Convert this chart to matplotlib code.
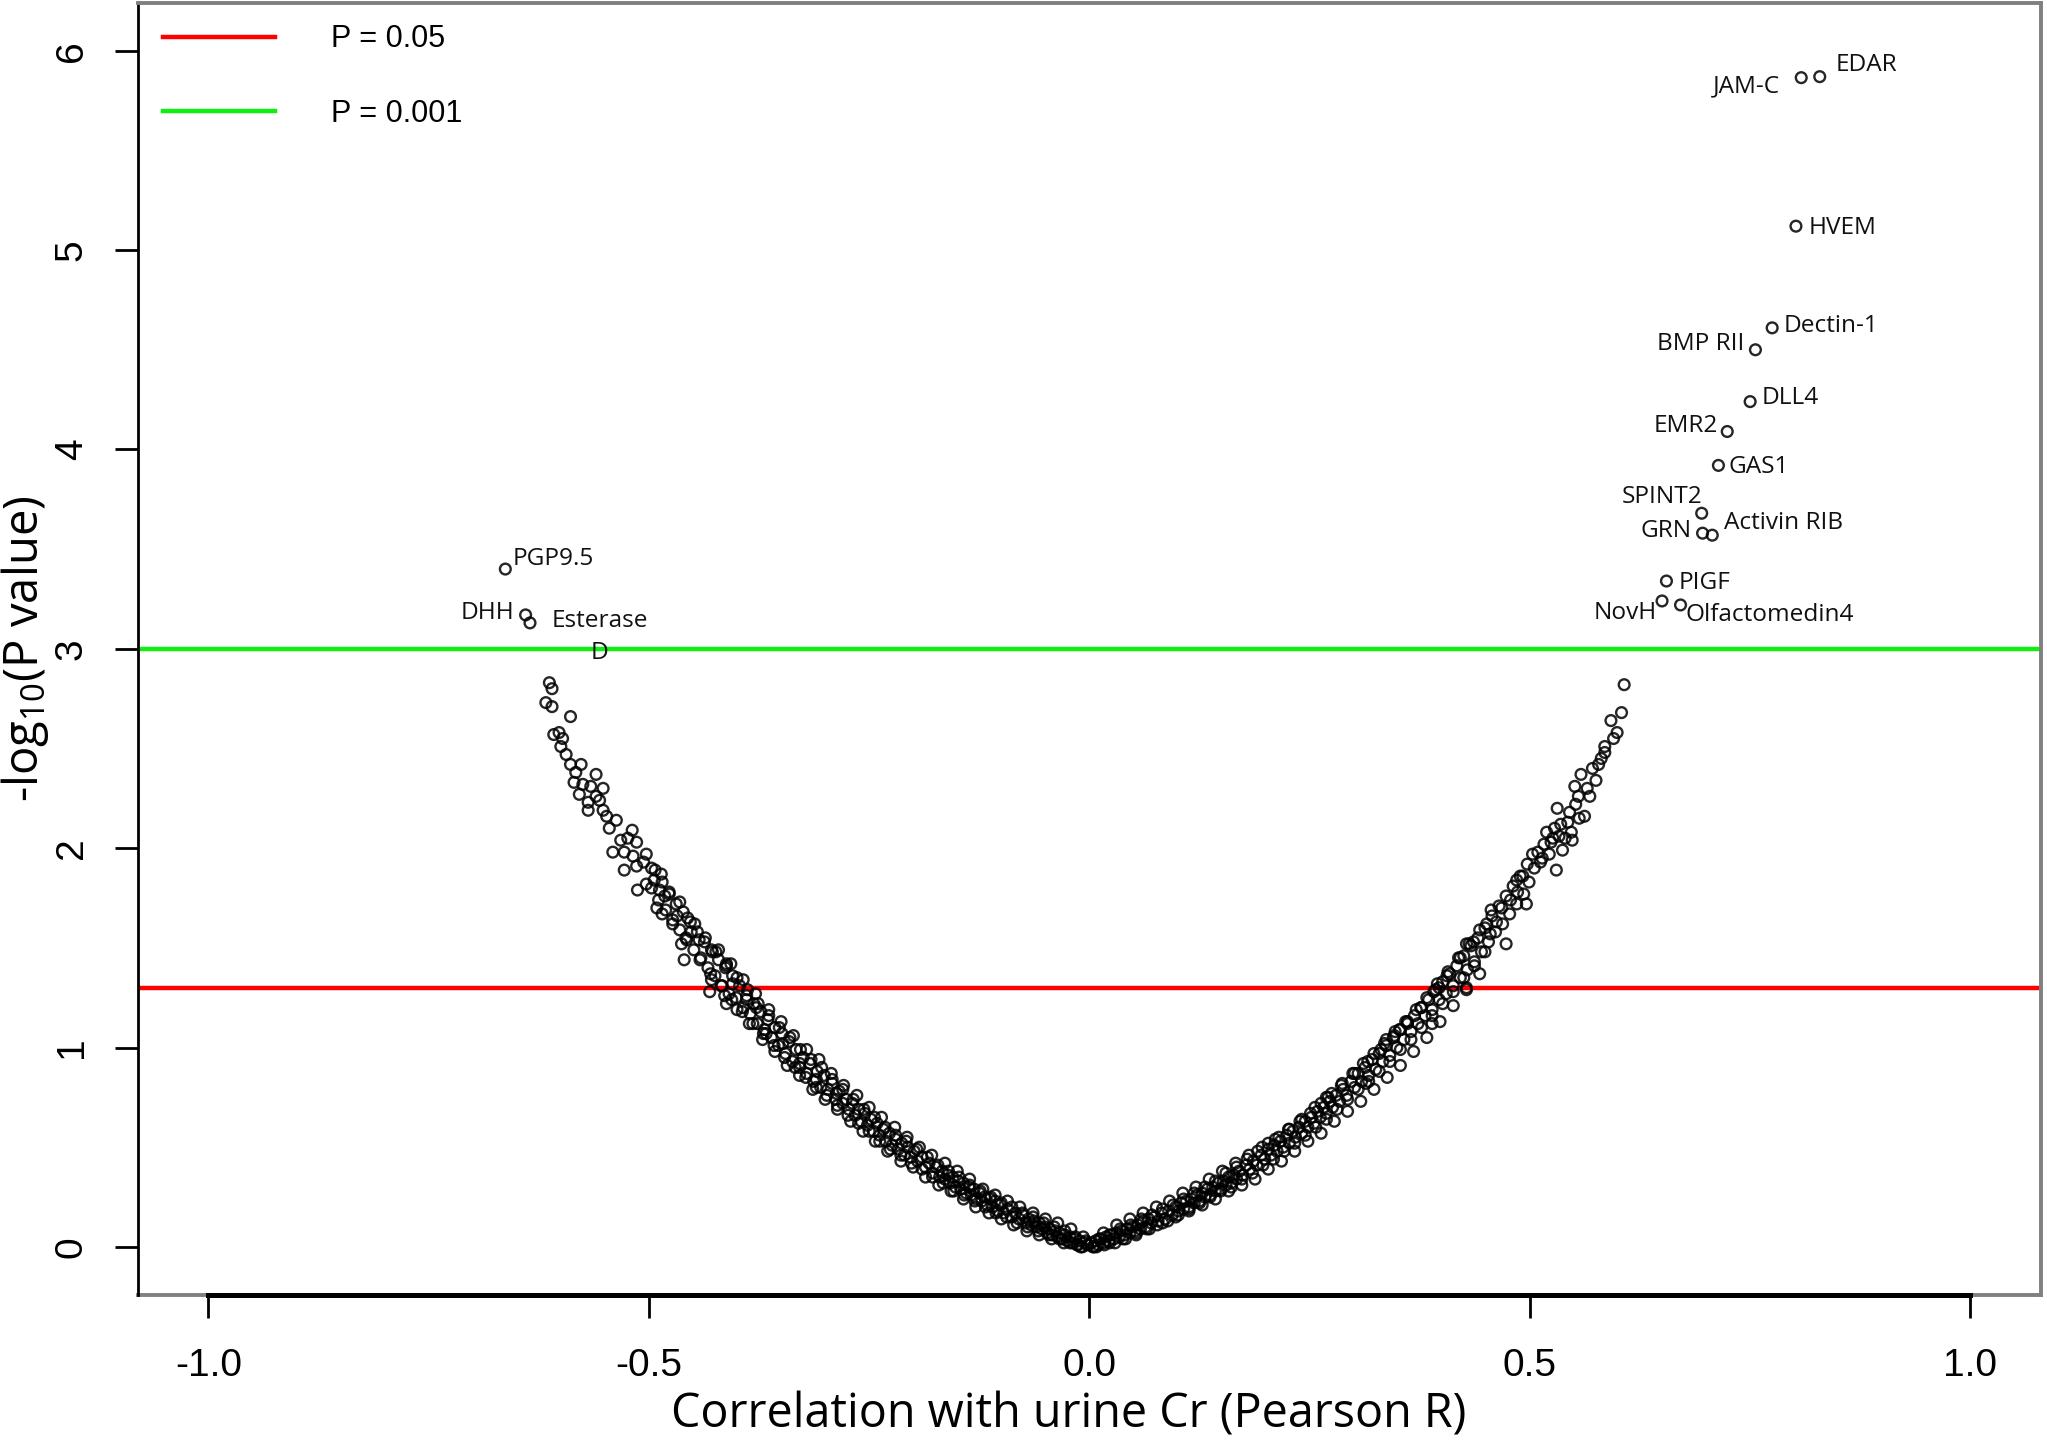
import numpy as np
import matplotlib.pyplot as plt
from matplotlib.lines import Line2D

# band of proteins with negative correlation
left_r = [-0.002, -0.005, -0.008, -0.011, -0.013, -0.016, -0.019, -0.022, -0.025, -0.028,
          -0.031, -0.034, -0.036, -0.039, -0.042, -0.045, -0.048, -0.051, -0.054, -0.057,
          -0.060, -0.063, -0.066, -0.069, -0.072, -0.076, -0.080, -0.084, -0.088, -0.093,
          -0.097,
          -0.101, -0.104, -0.107, -0.110, -0.113, -0.116, -0.119, -0.122, -0.125, -0.128,
          -0.131, -0.134, -0.137, -0.140, -0.143, -0.146, -0.149, -0.152, -0.155, -0.158,
          -0.161, -0.164, -0.167, -0.170, -0.174, -0.178, -0.182, -0.186, -0.190, -0.195,
          -0.199, -0.203, -0.206, -0.210, -0.213, -0.217, -0.220, -0.224, -0.227, -0.231,
          -0.234, -0.238, -0.241, -0.245, -0.248, -0.252, -0.255, -0.259, -0.262, -0.266,
          -0.269, -0.273, -0.276, -0.280, -0.284, -0.288, -0.292, -0.297,
          -0.301, -0.305, -0.309, -0.313, -0.317, -0.321, -0.325, -0.329, -0.333, -0.337,
          -0.341, -0.345, -0.349, -0.353, -0.357, -0.361, -0.365, -0.369, -0.373, -0.377,
          -0.381, -0.385, -0.389, -0.393, -0.397, -0.401,
          -0.405, -0.409, -0.413, -0.417, -0.421, -0.425, -0.429, -0.433, -0.437, -0.441,
          -0.445, -0.449, -0.453, -0.457, -0.461, -0.465, -0.469, -0.473, -0.477, -0.481,
          -0.485, -0.489, -0.493, -0.497,
          -0.491, -0.485, -0.477, -0.465, -0.473, -0.463, -0.456, -0.460, -0.443, -0.428,
          -0.412, -0.431, -0.405, -0.389, -0.378, -0.412, -0.367, -0.348, -0.329, -0.310,
          -0.287,
          -0.537, -0.545, -0.519, -0.524, -0.514, -0.541, -0.528, -0.503, -0.528, -0.514,
          -0.497, -0.486, -0.513, -0.503, -0.494,
          -0.552, -0.552, -0.560, -0.560, -0.569, -0.569, -0.575, -0.577, -0.579, -0.585,
          -0.589, -0.589, -0.608, -0.602, -0.600, -0.613, -0.610, -0.617, -0.610]
left_y = [0.01, 0.02, 0.00, 0.03, 0.01, 0.04, 0.02, 0.05, 0.03, 0.06,
          0.04, 0.07, 0.05, 0.08, 0.06, 0.09, 0.07, 0.10, 0.09, 0.12,
          0.10, 0.13, 0.11, 0.14, 0.12, 0.16, 0.14, 0.17, 0.15, 0.19,
          0.17,
          0.21, 0.18, 0.23, 0.20, 0.24, 0.21, 0.25, 0.23, 0.27, 0.24,
          0.29, 0.26, 0.30, 0.27, 0.32, 0.29, 0.33, 0.30, 0.35, 0.32,
          0.36, 0.34, 0.38, 0.35, 0.40, 0.37, 0.42, 0.40, 0.45, 0.43,
          0.48, 0.45, 0.50, 0.46, 0.52, 0.49, 0.54, 0.51, 0.57, 0.53,
          0.59, 0.56, 0.62, 0.58, 0.64, 0.61, 0.67, 0.63, 0.69, 0.66,
          0.72, 0.69, 0.74, 0.72, 0.78, 0.74, 0.82, 0.79,
          0.86, 0.80, 0.88, 0.83, 0.92, 0.87, 0.95, 0.90, 0.99, 0.93,
          1.03, 0.97, 1.07, 1.01, 1.10, 1.05, 1.14, 1.09, 1.18, 1.12,
          1.22, 1.17, 1.26, 1.20, 1.31, 1.25,
          1.36, 1.27, 1.40, 1.31, 1.44, 1.36, 1.49, 1.40, 1.53, 1.45,
          1.58, 1.49, 1.63, 1.54, 1.68, 1.59, 1.72, 1.64, 1.78, 1.69,
          1.83, 1.74, 1.89, 1.80,
          1.70, 1.67, 1.77, 1.73, 1.62, 1.52, 1.65, 1.44, 1.54, 1.48,
          1.42, 1.28, 1.32, 1.24, 1.20, 1.22, 1.07, 1.02, 0.92, 0.84,
          0.77,
          2.14, 2.10, 2.09, 2.05, 2.03, 1.98, 1.98, 1.97, 1.89, 1.91,
          1.90, 1.87, 1.79, 1.82, 1.84,
          2.30, 2.19, 2.37, 2.26, 2.23, 2.19, 2.32, 2.42, 2.27, 2.33,
          2.42, 2.66, 2.57, 2.58, 2.51, 2.83, 2.80, 2.73, 2.71]

# more points in the thick part of the negative band
left2_r = [-0.004, -0.010, -0.016, -0.022, -0.028, -0.034, -0.040, -0.046, -0.052, -0.058,
           -0.064, -0.070, -0.076, -0.082, -0.088, -0.094, -0.100, -0.106, -0.112, -0.118,
           -0.124, -0.130, -0.136, -0.142, -0.148, -0.154, -0.160, -0.166, -0.172, -0.178,
           -0.184, -0.190, -0.196, -0.202, -0.208, -0.214, -0.220, -0.226, -0.232, -0.238,
           -0.244, -0.250, -0.256, -0.262, -0.268, -0.274, -0.280, -0.286, -0.292, -0.298,
           -0.304, -0.310, -0.316, -0.322, -0.328, -0.334, -0.340, -0.346, -0.352, -0.358,
           -0.364, -0.370, -0.376, -0.382, -0.388, -0.394, -0.400, -0.406, -0.412, -0.418,
           -0.424, -0.430, -0.436, -0.442, -0.448]
left2_y = [0.03, 0.00, 0.05, 0.02, 0.08, 0.04, 0.10, 0.06, 0.12, 0.08,
           0.15, 0.10, 0.17, 0.12, 0.20, 0.15, 0.22, 0.17, 0.25, 0.20,
           0.28, 0.23, 0.31, 0.26, 0.35, 0.28, 0.38, 0.32, 0.41, 0.35,
           0.45, 0.39, 0.49, 0.42, 0.53, 0.46, 0.56, 0.49, 0.60, 0.53,
           0.65, 0.58, 0.69, 0.62, 0.74, 0.66, 0.79, 0.71, 0.84, 0.76,
           0.90, 0.80, 0.94, 0.85, 0.99, 0.90, 1.05, 0.95, 1.10, 1.01,
           1.16, 1.07, 1.22, 1.12, 1.29, 1.18, 1.35, 1.24, 1.41, 1.31,
           1.48, 1.37, 1.55, 1.44, 1.62]

left3_r = [-0.007, -0.014, -0.021, -0.029, -0.036, -0.043, -0.050, -0.057, -0.064, -0.071,
           -0.079, -0.086, -0.093, -0.100, -0.107, -0.114, -0.121, -0.129, -0.136, -0.143,
           -0.150, -0.157, -0.164, -0.171, -0.179, -0.186, -0.193, -0.200, -0.207, -0.214,
           -0.221, -0.229, -0.236, -0.243, -0.250, -0.257, -0.264, -0.271, -0.279, -0.286,
           -0.293, -0.300, -0.307, -0.314, -0.321, -0.329, -0.336, -0.343, -0.350, -0.357,
           -0.364, -0.371, -0.379, -0.386, -0.393, -0.400, -0.407, -0.414, -0.421, -0.429,
           -0.452, -0.458, -0.468, -0.482, -0.488, -0.506, -0.518, -0.532, -0.548, -0.556,
           -0.566, -0.583, -0.594, -0.598]
left3_y = [0.05, 0.01, 0.09, 0.02, 0.12, 0.04, 0.14, 0.06, 0.17, 0.08,
           0.20, 0.11, 0.23, 0.14, 0.26, 0.17, 0.29, 0.20, 0.34, 0.24,
           0.38, 0.28, 0.42, 0.31, 0.46, 0.35, 0.50, 0.40, 0.55, 0.43,
           0.60, 0.48, 0.65, 0.53, 0.70, 0.58, 0.76, 0.63, 0.81, 0.69,
           0.87, 0.74, 0.94, 0.79, 0.99, 0.86, 1.06, 0.91, 1.13, 0.98,
           1.19, 1.04, 1.27, 1.12, 1.34, 1.19, 1.42, 1.26, 1.49, 1.34,
           1.58, 1.55, 1.66, 1.76, 1.79, 1.93, 1.96, 2.04, 2.16, 2.24,
           2.31, 2.38, 2.47, 2.55]

# band of proteins with positive correlation
right_r = [0.002, 0.004, 0.007, 0.010, 0.013, 0.016, 0.019, 0.022, 0.025, 0.028,
           0.031, 0.034, 0.037, 0.040, 0.043, 0.046, 0.049, 0.052, 0.055, 0.058,
           0.061, 0.064, 0.067, 0.070, 0.074, 0.078, 0.082, 0.086, 0.090, 0.094,
           0.098,
           0.101, 0.104, 0.107, 0.110, 0.113, 0.116, 0.119, 0.122, 0.125, 0.128,
           0.131, 0.134, 0.137, 0.140, 0.143, 0.146, 0.149, 0.152, 0.155, 0.158,
           0.161, 0.164, 0.167, 0.170, 0.174, 0.178, 0.182, 0.186, 0.190, 0.195,
           0.199, 0.203, 0.206, 0.210, 0.213, 0.217, 0.220, 0.224, 0.227, 0.231,
           0.234, 0.238, 0.241, 0.245, 0.248, 0.252, 0.255, 0.259, 0.262, 0.266,
           0.269, 0.273, 0.276, 0.280, 0.284, 0.288, 0.292, 0.297,
           0.301, 0.305, 0.309, 0.313, 0.317, 0.321, 0.325, 0.329, 0.333, 0.337,
           0.341, 0.345, 0.349, 0.353, 0.357, 0.361, 0.365, 0.369, 0.373, 0.377,
           0.381, 0.385, 0.389, 0.393, 0.397, 0.401,
           0.405, 0.409, 0.413, 0.417, 0.421, 0.425, 0.429, 0.433, 0.437, 0.441,
           0.445, 0.449, 0.453, 0.457, 0.461, 0.465, 0.469, 0.473, 0.477, 0.481,
           0.485, 0.489, 0.493, 0.497,
           0.428, 0.428, 0.473, 0.456, 0.496, 0.485, 0.503, 0.530, 0.397, 0.352,
           0.389, 0.337, 0.269, 0.314,
           0.519, 0.528, 0.547, 0.548, 0.537, 0.531, 0.545, 0.562, 0.568, 0.571,
           0.558, 0.551, 0.585, 0.585, 0.599, 0.592, 0.604, 0.607,
           0.505, 0.509, 0.512, 0.516, 0.522, 0.526, 0.535, 0.540, 0.552, 0.556,
           0.565, 0.578]
right_y = [0.02, 0.00, 0.03, 0.01, 0.04, 0.02, 0.05, 0.03, 0.06, 0.04,
           0.07, 0.05, 0.08, 0.06, 0.09, 0.07, 0.10, 0.08, 0.11, 0.09,
           0.13, 0.10, 0.14, 0.12, 0.15, 0.13, 0.17, 0.14, 0.18, 0.16,
           0.20,
           0.18, 0.22, 0.19, 0.23, 0.20, 0.24, 0.22, 0.26, 0.23, 0.27,
           0.25, 0.29, 0.26, 0.30, 0.28, 0.32, 0.29, 0.33, 0.31, 0.35,
           0.32, 0.36, 0.34, 0.38, 0.36, 0.41, 0.39, 0.43, 0.41, 0.46,
           0.44, 0.49, 0.46, 0.51, 0.48, 0.53, 0.50, 0.56, 0.52, 0.58,
           0.55, 0.60, 0.57, 0.63, 0.60, 0.65, 0.62, 0.68, 0.65, 0.70,
           0.67, 0.73, 0.70, 0.76, 0.73, 0.79, 0.76, 0.83,
           0.80, 0.87, 0.83, 0.90, 0.86, 0.94, 0.89, 0.97, 0.93, 1.01,
           0.96, 1.05, 1.00, 1.09, 1.04, 1.12, 1.08, 1.16, 1.12, 1.20,
           1.16, 1.24, 1.19, 1.29, 1.24, 1.33,
           1.27, 1.37, 1.31, 1.41, 1.35, 1.46, 1.39, 1.51, 1.43, 1.55,
           1.48, 1.60, 1.53, 1.66, 1.58, 1.71, 1.62, 1.76, 1.67, 1.81,
           1.72, 1.86, 1.77, 1.92,
           1.30, 1.52, 1.52, 1.69, 1.72, 1.84, 1.97, 1.89, 1.30, 1.09,
           1.12, 1.04, 0.75, 0.82,
           2.08, 2.10, 2.08, 2.04, 1.99, 2.20, 2.18, 2.16, 2.26, 2.40,
           2.37, 2.31, 2.51, 2.48, 2.58, 2.64, 2.68, 2.82,
           1.90, 1.98, 1.93, 2.02, 1.97, 2.05, 2.12, 2.05, 2.22, 2.15,
           2.30, 2.42]

# more points in the thick part of the positive band
right2_r = [0.005, 0.011, 0.017, 0.023, 0.029, 0.035, 0.041, 0.047, 0.053, 0.059,
            0.065, 0.071, 0.077, 0.083, 0.089, 0.095, 0.101, 0.107, 0.113, 0.119,
            0.125, 0.131, 0.137, 0.143, 0.149, 0.155, 0.161, 0.167, 0.173, 0.179,
            0.185, 0.191, 0.197, 0.203, 0.209, 0.215, 0.221, 0.227, 0.233, 0.239,
            0.245, 0.251, 0.257, 0.263, 0.269, 0.275, 0.281, 0.287, 0.293, 0.299,
            0.305, 0.311, 0.317, 0.323, 0.329, 0.335, 0.341, 0.347, 0.353, 0.359,
            0.365, 0.371, 0.377, 0.383, 0.389, 0.395, 0.401, 0.407, 0.413, 0.419,
            0.425, 0.431, 0.437, 0.443, 0.449]
right2_y = [0.00, 0.04, 0.01, 0.06, 0.02, 0.09, 0.04, 0.11, 0.07, 0.14,
            0.09, 0.16, 0.11, 0.19, 0.13, 0.21, 0.16, 0.24, 0.19, 0.27,
            0.22, 0.30, 0.25, 0.33, 0.28, 0.37, 0.30, 0.40, 0.34, 0.44,
            0.37, 0.48, 0.41, 0.52, 0.44, 0.55, 0.48, 0.59, 0.52, 0.63,
            0.56, 0.67, 0.60, 0.72, 0.64, 0.77, 0.69, 0.82, 0.74, 0.87,
            0.79, 0.92, 0.83, 0.97, 0.88, 1.02, 0.93, 1.08, 0.99, 1.13,
            1.04, 1.19, 1.10, 1.25, 1.16, 1.32, 1.22, 1.38, 1.28, 1.45,
            1.35, 1.52, 1.41, 1.59, 1.48]

right3_r = [0.008, 0.016, 0.023, 0.031, 0.038, 0.046, 0.053, 0.061, 0.068, 0.076,
            0.083, 0.091, 0.098, 0.106, 0.113, 0.121, 0.128, 0.136, 0.143, 0.151,
            0.158, 0.166, 0.173, 0.181, 0.188, 0.196, 0.203, 0.211, 0.218, 0.226,
            0.233, 0.241, 0.248, 0.256, 0.263, 0.271, 0.278, 0.286, 0.293, 0.301,
            0.308, 0.316, 0.323, 0.331, 0.338, 0.346, 0.353, 0.361, 0.368, 0.376,
            0.383, 0.391, 0.398, 0.406, 0.413, 0.421, 0.428, 0.436, 0.443, 0.451,
            0.455, 0.462, 0.468, 0.478, 0.486, 0.492, 0.499, 0.514, 0.524, 0.533,
            0.543, 0.555, 0.575, 0.581, 0.595]
right3_y = [0.00, 0.07, 0.02, 0.11, 0.04, 0.14, 0.06, 0.17, 0.09, 0.20,
            0.12, 0.23, 0.15, 0.27, 0.18, 0.30, 0.21, 0.34, 0.24, 0.38,
            0.28, 0.42, 0.31, 0.46, 0.34, 0.50, 0.39, 0.54, 0.43, 0.59,
            0.48, 0.64, 0.53, 0.70, 0.57, 0.75, 0.63, 0.81, 0.68, 0.87,
            0.73, 0.93, 0.79, 0.99, 0.85, 1.06, 0.91, 1.13, 0.98, 1.20,
            1.05, 1.28, 1.13, 1.36, 1.21, 1.45, 1.29, 1.53, 1.37, 1.62,
            1.57, 1.63, 1.70, 1.74, 1.78, 1.86, 1.83, 1.95, 2.03, 2.06,
            2.13, 2.26, 2.34, 2.45, 2.55]

# named proteins
label_names = ["EDAR", "JAM-C", "HVEM", "Dectin-1", "BMP RII", "DLL4", "EMR2", "GAS1",
               "SPINT2", "GRN", "Activin RIB", "PIGF", "NovH", "Olfactomedin4",
               "PGP9.5", "DHH", "Esterase\nD"]
label_r = [0.829, 0.808, 0.802, 0.775, 0.756, 0.750, 0.724, 0.714,
           0.695, 0.696, 0.707, 0.655, 0.650, 0.671,
           -0.663, -0.640, -0.635]
label_y = [5.87, 5.865, 5.12, 4.61, 4.50, 4.24, 4.09, 3.92,
           3.68, 3.58, 3.57, 3.34, 3.24, 3.22,
           3.40, 3.17, 3.13]

thresh_p = [0.05, 0.001]
thresh_names = ["P = 0.05", "P = 0.001"]

# where the label text sits (x, y, alignment)
label_pos = [(0.847, 5.93, "left"), (0.784, 5.82, "right"), (0.816, 5.11, "left"),
             (0.788, 4.62, "left"), (0.743, 4.53, "right"), (0.763, 4.26, "left"),
             (0.714, 4.12, "right"), (0.725, 3.91, "left"), (0.696, 3.76, "right"),
             (0.684, 3.59, "right"), (0.720, 3.63, "left"), (0.669, 3.33, "left"),
             (0.644, 3.18, "right"), (0.677, 3.17, "left"), (-0.655, 3.45, "left"),
             (-0.653, 3.18, "right"), (-0.556, 3.06, "center")]

fig = plt.figure(figsize=(10.235, 7.225), dpi=200)
ax = fig.add_axes([0.0674, 0.104, 0.9296, 0.894])

all_r = left_r + left2_r + left3_r + right_r + right2_r + right3_r + label_r
all_y = left_y + left2_y + left3_y + right_y + right2_y + right3_y + label_y
ax.scatter(all_r, all_y, s=15, facecolors="none", edgecolors="black",
           linewidths=0.85, alpha=0.85, zorder=3)

colors = ["#ff0000", "#11ee11"]
handles = []
for p, c, name in zip(thresh_p, colors, thresh_names):
    ax.axhline(-np.log10(p), color=c, lw=1.6, zorder=2)
    handles.append(Line2D([], [], color=c, lw=1.6, label=name))

for name, (tx, ty, ha) in zip(label_names, label_pos):
    ax.text(tx, ty, name, ha=ha, va="center", fontsize=8.8, family="Open Sans",
            linespacing=1.45, color="#111111", zorder=4)

leg = ax.legend(handles=handles, loc="upper left", frameon=False,
                prop={"family": "Liberation Sans", "size": 11},
                handlelength=3.65, handletextpad=1.85, labelspacing=1.46,
                borderaxespad=0.3, bbox_to_anchor=(0.002, 1.0))

ax.set_xlim(-1.08, 1.08)
ax.set_ylim(-0.24, 6.24)
ax.set_xticks([-1.0, -0.5, 0.0, 0.5, 1.0])
ax.set_xticklabels(["-1.0", "-0.5", "0.0", "0.5", "1.0"])
ax.set_yticks([0, 1, 2, 3, 4, 5, 6])

ax.tick_params(axis="both", direction="out", length=8.3, width=1.0, color="black",
               labelsize=14)
ax.tick_params(axis="x", pad=11)
ax.tick_params(axis="y", pad=9, labelrotation=90)
for lab in ax.get_xticklabels() + ax.get_yticklabels():
    lab.set_family("Liberation Sans")
for lab in ax.get_yticklabels():
    lab.set_va("center")

for side in ["top", "right"]:
    ax.spines[side].set_color("#808080")
    ax.spines[side].set_linewidth(1.4)
ax.spines["left"].set_color("black")
ax.spines["left"].set_linewidth(1.0)
ax.spines["bottom"].set_color("black")
ax.spines["bottom"].set_linewidth(1.8)
ax.spines["bottom"].set_bounds(-1.0, 1.0)
# remaining part of the box below the plot
ax.plot([0, 1], [0, 0], transform=ax.transAxes, color="#808080", lw=1.4,
        clip_on=False, zorder=1)

ax.set_xlabel("Correlation with urine Cr (Pearson R)", family="Open Sans",
              fontsize=16.8, va="center")
ax.xaxis.set_label_coords(0.489, -0.093)
ax.set_ylabel(r"-log$_{\mathregular{10}}$(P value)", family="Open Sans",
              fontsize=17, labelpad=1)

fig.savefig("out.png", dpi=200)
